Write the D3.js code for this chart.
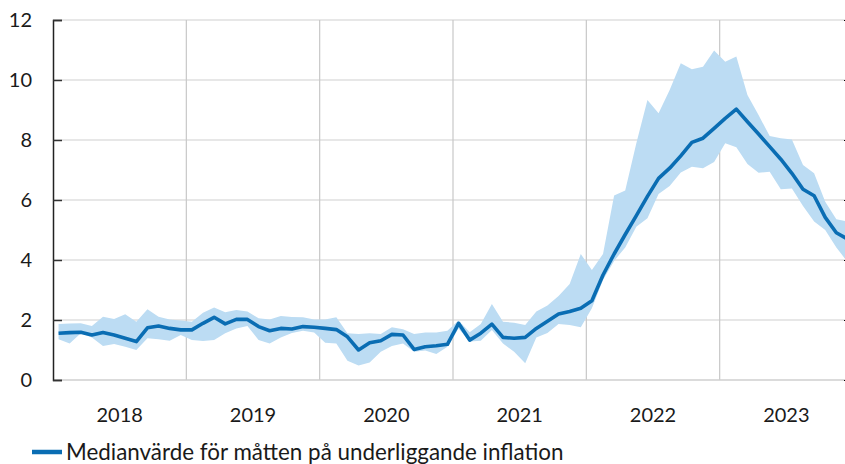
<!DOCTYPE html>
<html>
<head>
<meta charset="utf-8">
<script src="https://cdn.jsdelivr.net/npm/d3@7"></script>
<style>
  body { margin: 0; background: #fff; }
  svg { display: block; font-family: Lato, "Open Sans", sans-serif; }
</style>
</head>
<body>
<svg id="chart" width="845" height="464"></svg>
<script>
// monthly data, Jan 2018 - Dec 2023
var years = ["2018", "2019", "2020", "2021", "2022", "2023"]
var yTicks = [0, 2, 4, 6, 8, 10, 12]

var median = [1.56, 1.58, 1.59, 1.50, 1.58, 1.50, 1.39, 1.28, 1.74, 1.80, 1.72, 1.67,
              1.67, 1.89, 2.09, 1.87, 2.02, 2.02, 1.78, 1.64, 1.72, 1.70, 1.78, 1.76,
              1.72, 1.68, 1.44, 1.00, 1.24, 1.31, 1.52, 1.50, 1.02, 1.11, 1.14, 1.19,
              1.89, 1.33, 1.56, 1.86, 1.42, 1.39, 1.42, 1.72, 1.96, 2.20, 2.28, 2.39,
              2.64, 3.50, 4.20, 4.85, 5.48, 6.12, 6.72, 7.06, 7.47, 7.92, 8.06, 8.39,
              8.72, 9.03, 8.61, 8.20, 7.78, 7.36, 6.89, 6.36, 6.14, 5.42, 4.91, 4.70]

var upper = [1.87, 1.88, 1.89, 1.80, 2.11, 2.03, 2.19, 1.94, 2.36, 2.11, 2.02, 1.98,
             1.94, 2.24, 2.42, 2.26, 2.33, 2.28, 2.06, 2.02, 2.13, 2.10, 2.09, 2.02,
             2.02, 2.09, 1.56, 1.53, 1.56, 1.53, 1.76, 1.69, 1.53, 1.58, 1.58, 1.64,
             1.98, 1.59, 1.87, 2.53, 1.94, 1.91, 1.83, 2.28, 2.48, 2.80, 3.20, 4.20,
             3.67, 4.20, 6.15, 6.32, 7.89, 9.33, 8.89, 9.67, 10.56, 10.36, 10.44, 10.98,
             10.61, 10.78, 9.50, 8.83, 8.13, 8.06, 8.02, 7.17, 6.89, 5.94, 5.36, 5.28]

var lower = [1.36, 1.22, 1.56, 1.42, 1.13, 1.20, 1.11, 1.00, 1.39, 1.36, 1.31, 1.50,
             1.33, 1.30, 1.33, 1.56, 1.72, 1.80, 1.33, 1.22, 1.42, 1.57, 1.64, 1.58,
             1.24, 1.22, 0.64, 0.48, 0.58, 0.94, 1.13, 1.22, 0.94, 0.98, 0.87, 1.11,
             1.72, 1.28, 1.31, 1.67, 1.22, 0.94, 0.56, 1.42, 1.57, 1.87, 1.83, 1.76,
             2.39, 3.33, 3.97, 4.42, 5.11, 5.39, 6.20, 6.47, 6.92, 7.11, 7.06, 7.27,
             7.89, 7.76, 7.20, 6.91, 6.94, 6.36, 6.38, 5.80, 5.28, 5.00, 4.42, 3.94]

var legendLabel = "Medianvärde för måtten på underliggande inflation"

var months = []
years.forEach(function (yr) {
    for (var m = 1; m <= 12; m++) months.push(yr + "-" + (m < 10 ? "0" + m : m))
})
var data = months.map(function (key, i) {
    return { key: key, median: median[i], upper: upper[i], lower: lower[i] }
})

var svg = d3.select("#chart")
var plotLeft = 53, plotRight = 853, plotTop = 20, plotBottom = 380

var x = d3.scaleBand().domain(months).range([plotLeft, plotRight])
var xYear = d3.scaleBand().domain(years).range([plotLeft, plotRight])
var y = d3.scaleLinear().domain([0, 12]).range([plotBottom, plotTop])
var xc = function (d) { return x(d.key) + x.bandwidth() / 2 }

// horizontal grid
svg.append("g").selectAll("line").data(yTicks.slice(1)).enter().append("line")
    .attr("x1", plotLeft).attr("x2", 845)
    .attr("y1", function (d) { return y(d) }).attr("y2", function (d) { return y(d) })
    .attr("stroke", "#cfcfcf").attr("stroke-width", 1.2)

// vertical year grid
svg.append("g").selectAll("line").data(years.slice(1)).enter().append("line")
    .attr("x1", function (d) { return xYear(d) }).attr("x2", function (d) { return xYear(d) })
    .attr("y1", plotTop).attr("y2", plotBottom)
    .attr("stroke", "#c8c8c8").attr("stroke-width", 1.2)

// bottom line
svg.append("line").attr("x1", plotLeft).attr("x2", 845).attr("y1", plotBottom).attr("y2", plotBottom)
    .attr("stroke", "#cfcfcf").attr("stroke-width", 1.5)

// band min-max
svg.append("path").datum(data)
    .attr("fill", "#bcdcf3")
    .attr("d", d3.area()
        .x(xc)
        .y0(function (d) { return y(d.lower) })
        .y1(function (d) { return y(d.upper) }))

// median line
svg.append("path").datum(data)
    .attr("fill", "none")
    .attr("stroke", "#0a6db3")
    .attr("stroke-width", 3.6)
    .attr("stroke-linejoin", "round")
    .attr("d", d3.line()
        .x(xc)
        .y(function (d) { return y(d.median) }))

// left axis
var yAxis = svg.append("g").attr("transform", "translate(" + plotLeft + ",0)")
    .call(d3.axisLeft(y).tickValues(yTicks).tickSize(-9).tickPadding(21))
yAxis.select(".domain").attr("stroke", "#222").attr("stroke-width", 1.5)
yAxis.selectAll(".tick line").attr("stroke", "#333").attr("stroke-width", 1.5)
yAxis.selectAll("text").attr("font-size", 20).attr("fill", "#1a1a1a")
    .attr("font-family", "Lato, sans-serif")

// small marks at the right edge
svg.append("g").attr("transform", "translate(846,0)")
    .call(d3.axisLeft(y).tickValues(yTicks).tickSize(2).tickFormat(""))
    .select(".domain").remove()

// year labels
svg.append("g").selectAll("text").data(years).enter().append("text")
    .attr("x", function (d) { return xYear(d) + xYear.bandwidth() / 2 })
    .attr("y", 422)
    .attr("text-anchor", "middle")
    .attr("font-size", 20)
    .attr("fill", "#1a1a1a")
    .text(function (d) { return d })

// legend
svg.append("line").attr("x1", 32).attr("x2", 62).attr("y1", 452).attr("y2", 452)
    .attr("stroke", "#0a6db3").attr("stroke-width", 4.5)
svg.append("text").attr("x", 66).attr("y", 460)
    .attr("font-size", 22.4).attr("fill", "#1a1a1a")
    .text(legendLabel)
</script>
</body>
</html>
